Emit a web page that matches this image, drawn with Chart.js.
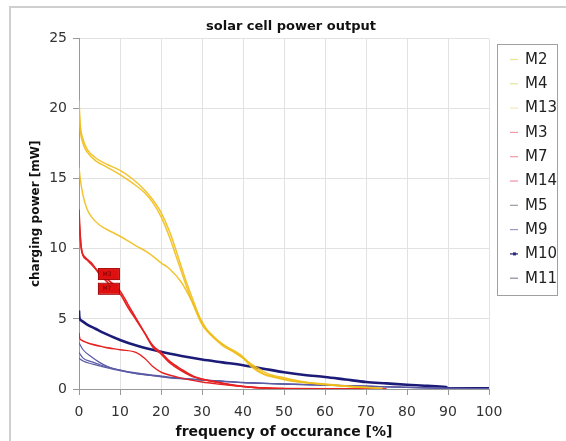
<!DOCTYPE html>
<html lang="en">
<head>
  <meta charset="UTF-8" />
  <title>solar cell power output</title>
  <script src="https://cdn.jsdelivr.net/npm/chart.js"></script>
  <style>
    html, body { margin: 0; padding: 0; background: #fff; }
    #wrap { width: 566px; height: 441px; }
  </style>
</head>
<body>
  <div id="wrap"><canvas id="chart" width="566" height="441"></canvas></div>

  <script>
    // series
    const seriesNames = ['M2', 'M4', 'M13', 'M3', 'M7', 'M14', 'M5', 'M9', 'M10', 'M11'];

    const xM2 = [0, 0.3, 1, 2, 4, 7, 10, 13, 16, 18, 20, 22, 24, 26, 28, 30, 32, 35, 38, 40, 42, 45, 48, 52, 56, 60, 65, 70, 74];
    const yM2 = [20.6, 18.9, 17.8, 17.1, 16.5, 16.0, 15.6, 15.0, 14.2, 13.5, 12.6, 11.3, 9.6, 7.8, 6.2, 4.7, 4.0, 3.2, 2.7, 2.3, 1.7, 1.1, 0.85, 0.6, 0.45, 0.35, 0.22, 0.12, 0.05];

    const xM4 = [0, 0.3, 1, 2, 4, 7, 10, 13, 16, 18, 20, 22, 24, 26, 28, 30, 32, 35, 38, 40, 42, 45, 48, 52, 56, 60, 65, 70, 74];
    const yM4 = [19.9, 18.5, 17.5, 16.9, 16.3, 15.8, 15.3, 14.7, 14.0, 13.3, 12.3, 10.9, 9.2, 7.5, 5.9, 4.6, 3.9, 3.1, 2.6, 2.2, 1.6, 1.05, 0.8, 0.55, 0.42, 0.32, 0.2, 0.1, 0.04];

    const xM13 = [0, 0.3, 1, 2, 3, 5, 8, 10, 14, 17, 20, 22, 25, 28, 30, 32, 35, 38, 40, 43, 46, 50, 55, 60, 65, 70];
    const yM13 = [15.8, 15.0, 13.8, 12.8, 12.3, 11.7, 11.2, 10.9, 10.2, 9.7, 9.0, 8.6, 7.6, 6.0, 4.8, 3.9, 3.2, 2.6, 2.2, 1.6, 1.1, 0.8, 0.5, 0.33, 0.2, 0.1];

    const xM3 = [0, 0.2, 0.5, 1, 2, 3, 5, 7, 10, 12, 14, 16, 18, 20, 22, 25, 28, 30, 34, 38, 42, 46, 50, 60, 75];
    const yM3 = [12.8, 11.5, 10.2, 9.5, 9.2, 8.9, 8.3, 7.8, 7.0, 6.0, 5.0, 4.0, 3.0, 2.5, 1.9, 1.3, 0.85, 0.7, 0.45, 0.25, 0.12, 0.05, 0.03, 0.01, 0];

    const xM7 = [0, 0.3, 0.7, 1.5, 3, 5, 7, 10, 12, 14, 16, 18, 20, 22, 25, 28, 30, 34, 38, 42, 46, 50];
    const yM7 = [12.1, 10.8, 9.8, 9.4, 9.0, 8.2, 7.6, 6.8, 5.8, 4.9, 4.0, 3.1, 2.6, 2.0, 1.4, 0.9, 0.72, 0.48, 0.27, 0.13, 0.06, 0.03];

    const xM14 = [0, 0.2, 0.5, 2, 6, 10, 14, 16, 18, 20, 22, 24, 27, 30, 34, 38, 42, 46, 50, 60, 70, 75];
    const yM14 = [4.0, 3.6, 3.5, 3.3, 3.0, 2.8, 2.6, 2.2, 1.6, 1.2, 1.0, 0.85, 0.65, 0.5, 0.35, 0.22, 0.12, 0.06, 0.03, 0.02, 0.01, 0];

    const xThin = [0, 1, 3, 5, 7, 10, 14, 18, 22, 26, 30, 35, 40, 45, 50, 60, 70, 80, 90, 100];
    const yM5  = [3.3, 2.8, 2.3, 1.9, 1.6, 1.35, 1.1, 0.95, 0.8, 0.72, 0.64, 0.55, 0.45, 0.4, 0.35, 0.27, 0.2, 0.12, 0.05, 0.03];
    const yM9  = [2.6, 2.2, 1.95, 1.75, 1.55, 1.35, 1.15, 1.0, 0.85, 0.75, 0.66, 0.56, 0.47, 0.41, 0.36, 0.28, 0.2, 0.12, 0.05, 0.03];
    const yM11 = [2.2, 2.0, 1.8, 1.65, 1.5, 1.3, 1.1, 0.95, 0.82, 0.72, 0.64, 0.55, 0.46, 0.4, 0.35, 0.27, 0.19, 0.11, 0.05, 0.03];

    const xM10 = [0, 0.1, 0.5, 2, 4, 6, 10, 14, 20, 25, 30, 35, 40, 45, 50, 55, 60, 65, 70, 75, 80, 85, 89.5, 90, 95, 100];
    const yM10 = [5.6, 5.1, 4.9, 4.6, 4.3, 4.0, 3.5, 3.1, 2.65, 2.35, 2.1, 1.9, 1.7, 1.45, 1.2, 1.0, 0.86, 0.68, 0.5, 0.4, 0.3, 0.22, 0.14, 0.05, 0.05, 0.05];

    const xTicks = [0, 10, 20, 30, 40, 50, 60, 70, 80, 90, 100];
    const yTicks = [0, 5, 10, 15, 20, 25];

    // point labels on the chart
    const labelNames = ['M3', 'M7'];
    const labelX = [7.3, 7.3];
    const labelY = [8.2, 7.15];

    const YEL = 'rgba(240,190,25,0.9)';
    const RED = '#e62222';
    const NAVY = '#1c1c78';
    const SLATE = '#5b5ba6';

    function pts(xs, ys) {
      return xs.map((x, i) => ({ x: x, y: ys[i] }));
    }

    const seriesX = [xM2, xM4, xM13, xM3, xM7, xM14, xThin, xThin, xM10, xThin];
    const seriesY = [yM2, yM4, yM13, yM3, yM7, yM14, yM5, yM9, yM10, yM11];
    const colors = [YEL, YEL, YEL, RED, RED, RED, SLATE, SLATE, NAVY, SLATE];
    const legendColors = ['#e9e38f', '#e4e49a', '#efe9c0', '#f09aa8', '#ef9aa6', '#ee90a6', '#9a9aa6', '#9a9ac0', '#4a4a90', '#8a8aa0'];
    const widths = [1.5, 1.5, 1.5, 1.6, 1.6, 1.4, 1.2, 1.2, 2.6, 1.2];

    const datasets = seriesNames.map((name, i) => ({
      label: name,
      data: pts(seriesX[i], seriesY[i]),
      borderColor: colors[i],
      borderWidth: widths[i],
      pointRadius: 0,
      fill: false,
      cubicInterpolationMode: 'monotone'
    }));

    const extras = {
      id: 'extras',
      beforeDraw(chart) {
        const ctx = chart.ctx;
        ctx.save();
        ctx.strokeStyle = '#cfcfcf';
        ctx.lineWidth = 2;
        ctx.beginPath();
        ctx.moveTo(10, 441);
        ctx.lineTo(10, 7);
        ctx.lineTo(566, 7);
        ctx.stroke();
        ctx.restore();
      },
      afterDatasetsDraw(chart) {
        const ctx = chart.ctx;
        const sx = chart.scales.x, sy = chart.scales.y;
        ctx.save();
        labelNames.forEach((t, i) => {
          const px = sx.getPixelForValue(labelX[i]);
          const py = sy.getPixelForValue(labelY[i]);
          ctx.fillStyle = '#e01010';
          ctx.fillRect(px - 10, py - 5, 20, 10);
          ctx.strokeStyle = '#a00000';
          ctx.lineWidth = 1;
          ctx.strokeRect(px - 10.5, py - 5.5, 21, 11);
          ctx.fillStyle = '#700000';
          ctx.font = '6px "DejaVu Sans"';
          ctx.textAlign = 'center';
          ctx.textBaseline = 'middle';
          ctx.fillText(t, px - 2, py);
        });
        ctx.restore();
      },
      afterDraw(chart) {
        const ctx = chart.ctx;
        const left = 497, top = 44, w = 60, h = 251;
        ctx.save();
        ctx.fillStyle = '#fff';
        ctx.fillRect(left, top, w, h);
        ctx.strokeStyle = '#a0a0a0';
        ctx.lineWidth = 1;
        ctx.strokeRect(left + 0.5, top + 0.5, w, h);
        ctx.font = '15px "DejaVu Sans"';
        ctx.textBaseline = 'middle';
        ctx.textAlign = 'left';
        seriesNames.forEach((name, i) => {
          const y = 59 + i * 24.3;
          ctx.strokeStyle = legendColors[i];
          ctx.lineWidth = i === 8 ? 1.5 : 1.2;
          ctx.beginPath();
          ctx.moveTo(left + 13, y + 0.5);
          ctx.lineTo(left + 21, y + 0.5);
          ctx.stroke();
          if (i === 8) {
            ctx.fillStyle = '#2a2a80';
            ctx.fillRect(left + 16, y - 1, 3, 3);
          }
          ctx.fillStyle = '#222';
          ctx.fillText(name, left + 28, y + 1);
        });
        ctx.restore();
      }
    };

    new Chart(document.getElementById('chart').getContext('2d'), {
      type: 'line',
      data: { datasets: datasets },
      options: {
        responsive: false,
        animation: false,
        layout: { padding: { left: 16, right: 0, top: 0, bottom: 0 } },
        plugins: {
          legend: { display: false },
          tooltip: { enabled: false },
          title: {
            display: true,
            text: 'solar cell power output',
            color: '#111',
            font: { family: 'DejaVu Sans', size: 13, weight: 'bold' },
            padding: { top: 19, bottom: 4 }
          }
        },
        scales: {
          x: {
            type: 'linear',
            min: 0,
            max: 100,
            afterFit: s => { s.height = 52; },
            afterBuildTicks: s => { s.ticks = xTicks.map(v => ({ value: v })); },
            ticks: { color: '#333', padding: 9, maxRotation: 0, font: { family: 'DejaVu Sans', size: 14 } },
            grid: { color: '#e2e2e2', tickColor: '#999', tickLength: 6 },
            border: { color: '#999' },
            title: {
              display: true,
              text: 'frequency of occurance [%]',
              color: '#111',
              font: { family: 'DejaVu Sans', size: 14, weight: 'bold' },
              padding: { top: 0, bottom: 0 }
            }
          },
          y: {
            type: 'linear',
            min: 0,
            max: 25,
            afterFit: s => { s.width = 63; },
            afterBuildTicks: s => { s.ticks = yTicks.map(v => ({ value: v })); },
            ticks: { color: '#333', padding: 6, font: { family: 'DejaVu Sans', size: 14 } },
            grid: { color: '#e2e2e2', tickColor: '#999', tickLength: 6 },
            border: { color: '#999' },
            title: {
              display: true,
              text: 'charging power [mW]',
              color: '#111',
              font: { family: 'DejaVu Sans', size: 12, weight: 'bold' },
              padding: { top: 13, bottom: 0 }
            }
          },
          yR: {
            position: 'right',
            display: true,
            afterFit: s => { s.width = 77; },
            ticks: { display: false },
            grid: { display: false, drawTicks: false },
            border: { display: false }
          }
        }
      },
      plugins: [extras]
    });
  </script>
</body>
</html>
